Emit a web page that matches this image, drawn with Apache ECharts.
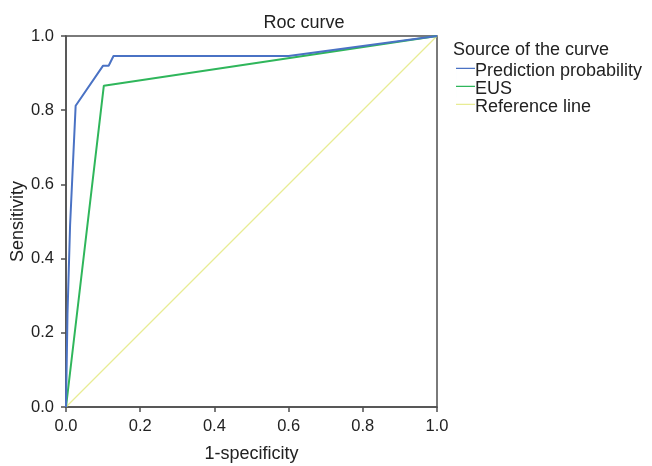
<!DOCTYPE html>
<html><head><meta charset="utf-8">
<script src="https://cdn.jsdelivr.net/npm/echarts@6/dist/echarts.min.js"></script>
<style>html,body{margin:0;padding:0;background:#fff}#c{width:652px;height:466px}</style>
</head><body><div id="c"></div>
<script>
var titleText = 'Roc curve';
var legendTitle = 'Source of the curve';
var seriesNames = ['Prediction probability', 'EUS', 'Reference line'];
var xTicks = [0, 0.2, 0.4, 0.6, 0.8, 1.0];
var predX = [0, 0.004, 0.011, 0.026, 0.100, 0.115, 0.128, 0.600, 1.0];
var predY = [0, 0.25, 0.49, 0.812, 0.920, 0.920, 0.946, 0.946, 1.0];
var eusX = [0, 0.102, 1.0];
var eusY = [0, 0.866, 1.0];
var refX = [0, 1];
var refY = [0, 1];
function pairs(xs, ys){ return xs.map(function(x,i){return [x, ys[i]];}); }
var font = 'Liberation Sans, Arial, sans-serif';
var colors = ['#4a72c4', '#2fb65b', '#e8ec94'];
var chart = echarts.init(document.getElementById('c'));
chart.setOption({
  animation: false,
  title: { text: titleText, left: 299, textAlign: 'center', top: 8,
    textStyle: { fontFamily: font, fontSize: 18, fontWeight: 'normal', color: '#222', lineHeight: 20 } },
  grid: { left: 66, right: 215, top: 36, bottom: 59, containLabel: false, outerBoundsMode: 'none', show: true, borderColor: '#4f4f4f', borderWidth: 1.5, backgroundColor: 'transparent' },
  xAxis: { type: 'value', min: 0, max: 1, interval: 0.2, name: '1-specificity', nameLocation: 'middle', nameGap: 38, nameMoveOverlap: false,
    nameTextStyle: { fontFamily: font, fontSize: 18, color: '#222' },
    axisLine: { show: true, lineStyle: { color: '#4f4f4f', width: 1.5 } },
    axisTick: { show: true, length: 5, lineStyle: { color: '#4f4f4f', width: 1.5 } },
    axisLabel: { fontFamily: font, fontSize: 16.5, color: '#222', margin: 11, formatter: function(v){return v.toFixed(1);} },
    splitLine: { show: false } },
  yAxis: { type: 'value', min: 0, max: 1, interval: 0.2, name: 'Sensitivity', nameLocation: 'middle', nameGap: 39, nameMoveOverlap: false,
    nameTextStyle: { fontFamily: font, fontSize: 18, color: '#222' },
    axisLine: { show: true, lineStyle: { color: '#4f4f4f', width: 1.5 } },
    axisTick: { show: true, length: 5, lineStyle: { color: '#4f4f4f', width: 1.5 } },
    axisLabel: { fontFamily: font, fontSize: 16.5, color: '#222', margin: 12, formatter: function(v){return v.toFixed(1);} },
    splitLine: { show: false } },
  graphic: [{ type: 'text', left: 453, top: 41, style: { text: legendTitle, font: '18px ' + font, fill: '#222' } }],
  legend: { orient: 'vertical', left: 456, top: 62.5, itemGap: 0, itemWidth: 19, itemHeight: 16.5, padding: 0,
    textStyle: { fontFamily: font, fontSize: 18, lineHeight: 16.5, color: '#222', padding: [0,0,0,-5] },
    data: seriesNames.map(function(n,i){ return { name: n, icon: 'path://M0,4.6L19,4.6L19,5.8L0,5.8ZM0,0L0.01,0L0.01,16.5L0,16.5Z', itemStyle: { color: colors[i] } }; }) },
  series: [
    { name: seriesNames[0], type: 'line', data: pairs(predX, predY), showSymbol: false, lineStyle: { color: colors[0], width: 2 }, itemStyle: { color: colors[0] }, z: 4 },
    { name: seriesNames[1], type: 'line', data: pairs(eusX, eusY), showSymbol: false, lineStyle: { color: colors[1], width: 2 }, itemStyle: { color: colors[1] }, z: 3 },
    { name: seriesNames[2], type: 'line', data: pairs(refX, refY), showSymbol: false, lineStyle: { color: colors[2], width: 1.2 }, itemStyle: { color: colors[2] }, z: 2 }
  ]
});
</script></body></html>
